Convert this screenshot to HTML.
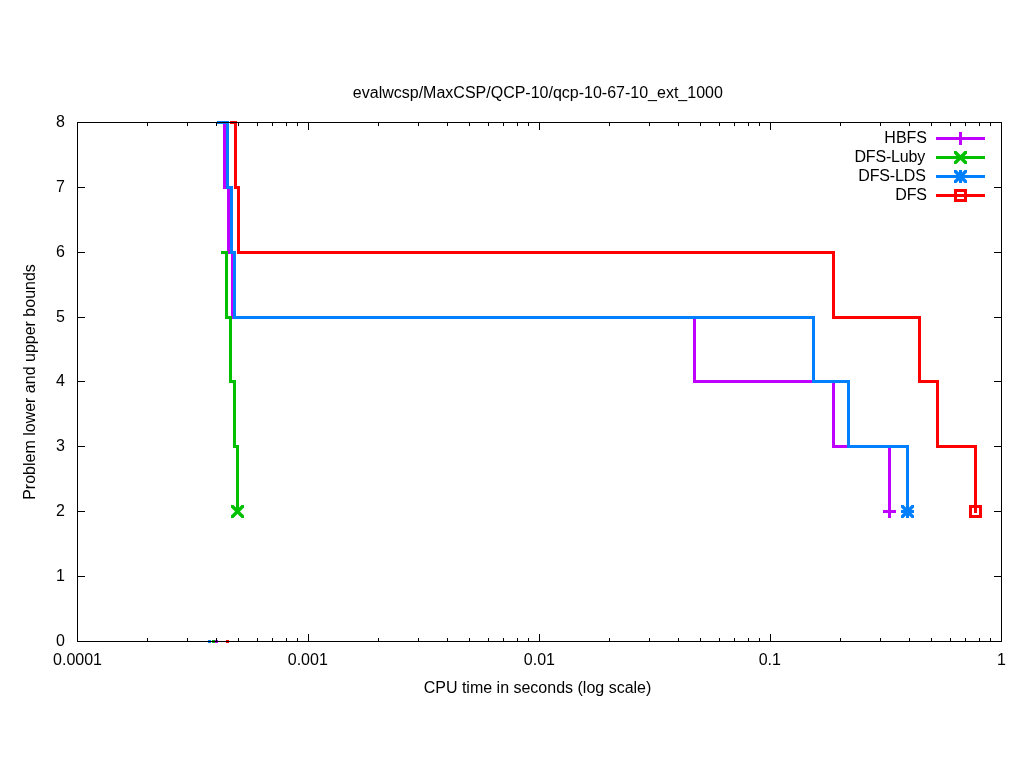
<!DOCTYPE html>
<html><head><meta charset="utf-8"><style>
html,body{margin:0;padding:0;background:#fff;}
svg{display:block;will-change:transform;}
text{font-family:"Liberation Sans",sans-serif;font-size:16px;fill:#000;}
</style></head><body>
<svg width="1024" height="768" viewBox="0 0 1024 768">
<rect x="0" y="0" width="1024" height="768" fill="#fff"/>
<rect x="219" y="121" width="7" height="3" fill="#c000ff"/>
<rect x="223" y="121" width="3" height="68" fill="#c000ff"/>
<rect x="223" y="186" width="7" height="3" fill="#c000ff"/>
<rect x="227" y="186" width="3" height="68" fill="#c000ff"/>
<rect x="227" y="251" width="7" height="3" fill="#c000ff"/>
<rect x="231" y="251" width="3" height="68" fill="#c000ff"/>
<rect x="231" y="316" width="465" height="3" fill="#c000ff"/>
<rect x="693" y="316" width="3" height="67" fill="#c000ff"/>
<rect x="693" y="380" width="142" height="3" fill="#c000ff"/>
<rect x="832" y="380" width="3" height="68" fill="#c000ff"/>
<rect x="832" y="445" width="59" height="3" fill="#c000ff"/>
<rect x="888" y="445" width="3" height="68" fill="#c000ff"/>
<rect x="883" y="510" width="13" height="3" fill="#c000ff"/>
<rect x="888" y="505" width="3" height="13" fill="#c000ff"/>
<rect x="215" y="640" width="3" height="3" fill="#c000ff"/>
<rect x="221" y="251" width="7" height="3" fill="#00c000"/>
<rect x="225" y="251" width="3" height="68" fill="#00c000"/>
<rect x="225" y="316" width="7" height="3" fill="#00c000"/>
<rect x="229" y="316" width="3" height="67" fill="#00c000"/>
<rect x="229" y="380" width="7" height="3" fill="#00c000"/>
<rect x="233" y="380" width="3" height="68" fill="#00c000"/>
<rect x="233" y="445" width="6" height="3" fill="#00c000"/>
<rect x="236" y="445" width="3" height="68" fill="#00c000"/>
<polygon points="231,505 233.45,505 244,515.55 244,518 241.55,518 231,507.45" fill="#00c000"/>
<polygon points="244,505 244,507.45 233.45,518 231,518 231,515.55 241.55,505" fill="#00c000"/>
<rect x="212" y="640" width="3" height="3" fill="#00c000"/>
<rect x="217" y="121" width="12" height="3" fill="#0080ff"/>
<rect x="226" y="121" width="3" height="68" fill="#0080ff"/>
<rect x="226" y="186" width="7" height="3" fill="#0080ff"/>
<rect x="230" y="186" width="3" height="68" fill="#0080ff"/>
<rect x="230" y="251" width="6" height="3" fill="#0080ff"/>
<rect x="233" y="251" width="3" height="68" fill="#0080ff"/>
<rect x="233" y="316" width="582" height="3" fill="#0080ff"/>
<rect x="812" y="316" width="3" height="67" fill="#0080ff"/>
<rect x="812" y="380" width="38" height="3" fill="#0080ff"/>
<rect x="847" y="380" width="3" height="68" fill="#0080ff"/>
<rect x="847" y="445" width="62" height="3" fill="#0080ff"/>
<rect x="906" y="445" width="3" height="68" fill="#0080ff"/>
<rect x="901" y="510" width="13" height="3" fill="#0080ff"/>
<rect x="906" y="505" width="3" height="13" fill="#0080ff"/>
<polygon points="901,505 903.45,505 914,515.55 914,518 911.55,518 901,507.45" fill="#0080ff"/>
<polygon points="914,505 914,507.45 903.45,518 901,518 901,515.55 911.55,505" fill="#0080ff"/>
<rect x="208" y="640" width="3" height="3" fill="#0080ff"/>
<rect x="230" y="121" width="7" height="3" fill="#ff0000"/>
<rect x="234" y="121" width="3" height="68" fill="#ff0000"/>
<rect x="234" y="186" width="6" height="3" fill="#ff0000"/>
<rect x="237" y="186" width="3" height="68" fill="#ff0000"/>
<rect x="237" y="251" width="598" height="3" fill="#ff0000"/>
<rect x="832" y="251" width="3" height="68" fill="#ff0000"/>
<rect x="832" y="316" width="89" height="3" fill="#ff0000"/>
<rect x="918" y="316" width="3" height="67" fill="#ff0000"/>
<rect x="918" y="380" width="21" height="3" fill="#ff0000"/>
<rect x="936" y="380" width="3" height="68" fill="#ff0000"/>
<rect x="936" y="445" width="41" height="3" fill="#ff0000"/>
<rect x="974" y="445" width="3" height="68" fill="#ff0000"/>
<rect x="969" y="505" width="13" height="3" fill="#ff0000"/>
<rect x="969" y="515" width="13" height="3" fill="#ff0000"/>
<rect x="969" y="505" width="3" height="13" fill="#ff0000"/>
<rect x="979" y="505" width="3" height="13" fill="#ff0000"/>
<rect x="226" y="640" width="3" height="3" fill="#ff0000"/>
<rect x="77" y="122" width="925" height="1" fill="#000000"/>
<rect x="77" y="641" width="925" height="1" fill="#000000"/>
<rect x="77" y="122" width="1" height="520" fill="#000000"/>
<rect x="1001" y="122" width="1" height="520" fill="#000000"/>
<rect x="77" y="187" width="8" height="1" fill="#000000"/>
<rect x="994" y="187" width="8" height="1" fill="#000000"/>
<rect x="77" y="252" width="8" height="1" fill="#000000"/>
<rect x="994" y="252" width="8" height="1" fill="#000000"/>
<rect x="77" y="317" width="8" height="1" fill="#000000"/>
<rect x="994" y="317" width="8" height="1" fill="#000000"/>
<rect x="77" y="381" width="8" height="1" fill="#000000"/>
<rect x="994" y="381" width="8" height="1" fill="#000000"/>
<rect x="77" y="446" width="8" height="1" fill="#000000"/>
<rect x="994" y="446" width="8" height="1" fill="#000000"/>
<rect x="77" y="511" width="8" height="1" fill="#000000"/>
<rect x="994" y="511" width="8" height="1" fill="#000000"/>
<rect x="77" y="576" width="8" height="1" fill="#000000"/>
<rect x="994" y="576" width="8" height="1" fill="#000000"/>
<rect x="147" y="638" width="1" height="4" fill="#000000"/>
<rect x="147" y="122" width="1" height="4" fill="#000000"/>
<rect x="187" y="638" width="1" height="4" fill="#000000"/>
<rect x="187" y="122" width="1" height="4" fill="#000000"/>
<rect x="216" y="638" width="1" height="4" fill="#000000"/>
<rect x="216" y="122" width="1" height="4" fill="#000000"/>
<rect x="238" y="638" width="1" height="4" fill="#000000"/>
<rect x="238" y="122" width="1" height="4" fill="#000000"/>
<rect x="257" y="638" width="1" height="4" fill="#000000"/>
<rect x="257" y="122" width="1" height="4" fill="#000000"/>
<rect x="272" y="638" width="1" height="4" fill="#000000"/>
<rect x="272" y="122" width="1" height="4" fill="#000000"/>
<rect x="286" y="638" width="1" height="4" fill="#000000"/>
<rect x="286" y="122" width="1" height="4" fill="#000000"/>
<rect x="297" y="638" width="1" height="4" fill="#000000"/>
<rect x="297" y="122" width="1" height="4" fill="#000000"/>
<rect x="308" y="634" width="1" height="8" fill="#000000"/>
<rect x="308" y="122" width="1" height="8" fill="#000000"/>
<rect x="378" y="638" width="1" height="4" fill="#000000"/>
<rect x="378" y="122" width="1" height="4" fill="#000000"/>
<rect x="418" y="638" width="1" height="4" fill="#000000"/>
<rect x="418" y="122" width="1" height="4" fill="#000000"/>
<rect x="447" y="638" width="1" height="4" fill="#000000"/>
<rect x="447" y="122" width="1" height="4" fill="#000000"/>
<rect x="469" y="638" width="1" height="4" fill="#000000"/>
<rect x="469" y="122" width="1" height="4" fill="#000000"/>
<rect x="488" y="638" width="1" height="4" fill="#000000"/>
<rect x="488" y="122" width="1" height="4" fill="#000000"/>
<rect x="503" y="638" width="1" height="4" fill="#000000"/>
<rect x="503" y="122" width="1" height="4" fill="#000000"/>
<rect x="517" y="638" width="1" height="4" fill="#000000"/>
<rect x="517" y="122" width="1" height="4" fill="#000000"/>
<rect x="528" y="638" width="1" height="4" fill="#000000"/>
<rect x="528" y="122" width="1" height="4" fill="#000000"/>
<rect x="539" y="634" width="1" height="8" fill="#000000"/>
<rect x="539" y="122" width="1" height="8" fill="#000000"/>
<rect x="609" y="638" width="1" height="4" fill="#000000"/>
<rect x="609" y="122" width="1" height="4" fill="#000000"/>
<rect x="649" y="638" width="1" height="4" fill="#000000"/>
<rect x="649" y="122" width="1" height="4" fill="#000000"/>
<rect x="678" y="638" width="1" height="4" fill="#000000"/>
<rect x="678" y="122" width="1" height="4" fill="#000000"/>
<rect x="700" y="638" width="1" height="4" fill="#000000"/>
<rect x="700" y="122" width="1" height="4" fill="#000000"/>
<rect x="719" y="638" width="1" height="4" fill="#000000"/>
<rect x="719" y="122" width="1" height="4" fill="#000000"/>
<rect x="734" y="638" width="1" height="4" fill="#000000"/>
<rect x="734" y="122" width="1" height="4" fill="#000000"/>
<rect x="748" y="638" width="1" height="4" fill="#000000"/>
<rect x="748" y="122" width="1" height="4" fill="#000000"/>
<rect x="759" y="638" width="1" height="4" fill="#000000"/>
<rect x="759" y="122" width="1" height="4" fill="#000000"/>
<rect x="770" y="634" width="1" height="8" fill="#000000"/>
<rect x="770" y="122" width="1" height="8" fill="#000000"/>
<rect x="840" y="638" width="1" height="4" fill="#000000"/>
<rect x="840" y="122" width="1" height="4" fill="#000000"/>
<rect x="880" y="638" width="1" height="4" fill="#000000"/>
<rect x="880" y="122" width="1" height="4" fill="#000000"/>
<rect x="909" y="638" width="1" height="4" fill="#000000"/>
<rect x="909" y="122" width="1" height="4" fill="#000000"/>
<rect x="931" y="638" width="1" height="4" fill="#000000"/>
<rect x="931" y="122" width="1" height="4" fill="#000000"/>
<rect x="950" y="638" width="1" height="4" fill="#000000"/>
<rect x="950" y="122" width="1" height="4" fill="#000000"/>
<rect x="965" y="638" width="1" height="4" fill="#000000"/>
<rect x="965" y="122" width="1" height="4" fill="#000000"/>
<rect x="979" y="638" width="1" height="4" fill="#000000"/>
<rect x="979" y="122" width="1" height="4" fill="#000000"/>
<rect x="990" y="638" width="1" height="4" fill="#000000"/>
<rect x="990" y="122" width="1" height="4" fill="#000000"/>
<rect x="936" y="137" width="49" height="3" fill="#c000ff"/>
<rect x="954" y="137" width="13" height="3" fill="#c000ff"/>
<rect x="959" y="132" width="3" height="13" fill="#c000ff"/>
<text x="884.33" y="142.6">HBFS</text>
<rect x="936" y="156" width="49" height="3" fill="#00c000"/>
<polygon points="954,151 956.45,151 967,161.55 967,164 964.55,164 954,153.45" fill="#00c000"/>
<polygon points="967,151 967,153.45 956.45,164 954,164 954,161.55 964.55,151" fill="#00c000"/>
<text x="854.43" y="161.6" textLength="70.77" lengthAdjust="spacing">DFS-Luby</text>
<rect x="936" y="175" width="49" height="3" fill="#0080ff"/>
<rect x="954" y="175" width="13" height="3" fill="#0080ff"/>
<rect x="959" y="170" width="3" height="13" fill="#0080ff"/>
<polygon points="954,170 956.45,170 967,180.55 967,183 964.55,183 954,172.45" fill="#0080ff"/>
<polygon points="967,170 967,172.45 956.45,183 954,183 954,180.55 964.55,170" fill="#0080ff"/>
<text x="858.25" y="180.6" textLength="67.65" lengthAdjust="spacing">DFS-LDS</text>
<rect x="936" y="194" width="49" height="3" fill="#ff0000"/>
<rect x="954" y="189" width="13" height="3" fill="#ff0000"/>
<rect x="954" y="199" width="13" height="3" fill="#ff0000"/>
<rect x="954" y="189" width="3" height="13" fill="#ff0000"/>
<rect x="964" y="189" width="3" height="13" fill="#ff0000"/>
<text x="895.3" y="199.6" textLength="31.7" lengthAdjust="spacing">DFS</text>
<text x="65" y="126.6" text-anchor="end">8</text>
<text x="65" y="191.6" text-anchor="end">7</text>
<text x="65" y="256.6" text-anchor="end">6</text>
<text x="65" y="321.6" text-anchor="end">5</text>
<text x="65" y="385.6" text-anchor="end">4</text>
<text x="65" y="450.6" text-anchor="end">3</text>
<text x="65" y="515.6" text-anchor="end">2</text>
<text x="65" y="580.6" text-anchor="end">1</text>
<text x="65" y="645.6" text-anchor="end">0</text>
<text x="77.5" y="664.7" text-anchor="middle">0.0001</text>
<text x="307.8" y="664.7" text-anchor="middle">0.001</text>
<text x="539.4" y="664.7" text-anchor="middle">0.01</text>
<text x="769.8" y="664.7" text-anchor="middle">0.1</text>
<text x="1001.5" y="664.7" text-anchor="middle">1</text>
<text x="537.85" y="98.4" text-anchor="middle">evalwcsp/MaxCSP/QCP-10/qcp-10-67-10_ext_1000</text>
<text x="537.5" y="692.6" text-anchor="middle">CPU time in seconds (log scale)</text>
<text transform="translate(34.6,382) rotate(-90)" x="0" y="0" text-anchor="middle">Problem lower and upper bounds</text>
</svg></body></html>
